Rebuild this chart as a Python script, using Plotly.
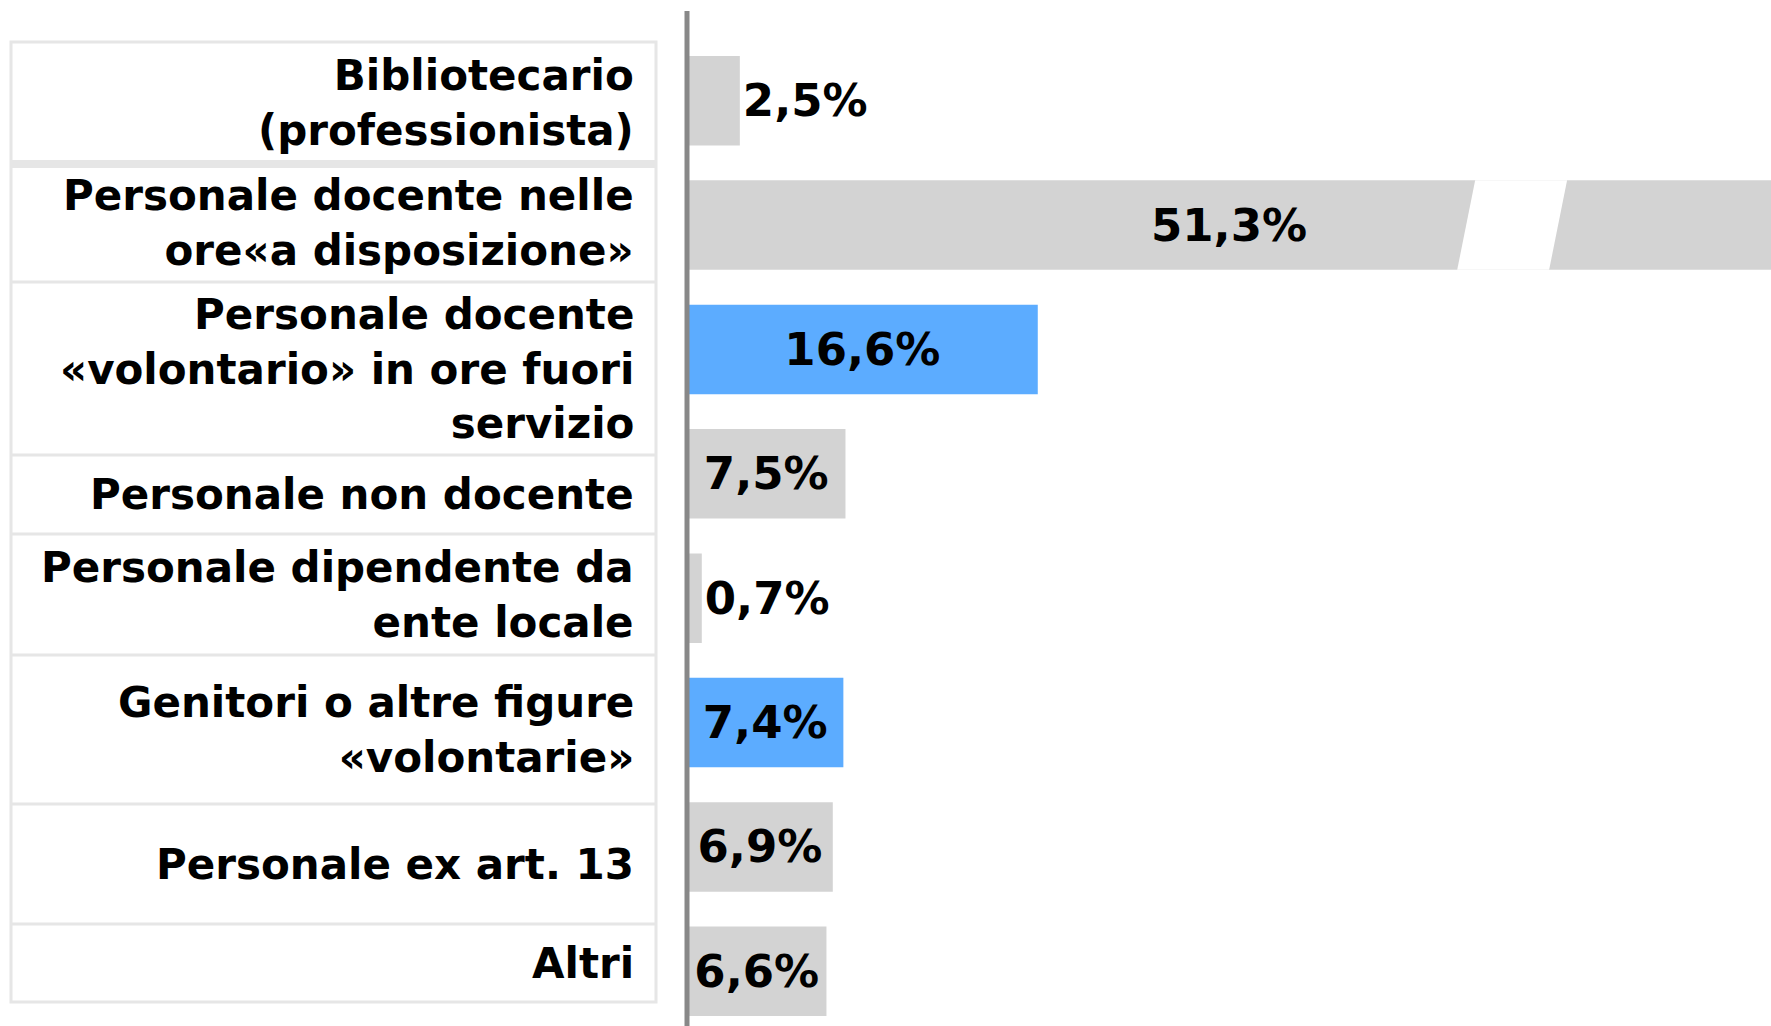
import plotly.graph_objects as go

# Share of staff by role (%)
categories = [
    "Bibliotecario<br>(professionista)",
    "Personale docente nelle<br>ore«a disposizione»",
    "Personale docente<br>«volontario» in ore fuori<br>servizio",
    "Personale non docente",
    "Personale dipendente da<br>ente locale",
    "Genitori o altre figure<br>«volontarie»",
    "Personale ex art. 13",
    "Altri",
]
shares = [2.5, 51.3, 16.6, 7.5, 0.7, 7.4, 6.9, 6.6]
highlighted = [False, False, True, False, False, True, False, False]
label_side = ["outside", "inside", "inside", "inside", "outside", "inside", "inside", "inside"]

W, H = 1771, 1026
GREY = "#d3d3d3"
BLUE = "#5cacff"
FONT = "DejaVu Sans"

# layout helpers (pixels in the final picture)
AXIS_X = 687
TABLE_LEFT, TABLE_RIGHT = 11, 656
LABEL_RIGHT = 636
TABLE_EDGES = [42, 164, 282, 455, 534, 655, 804, 924, 1002]
BAR_W = 0.72


def px_x(p):
    return p / W


def px_y(p):
    return 1 - p / H


ypos = list(range(len(categories)))
colors = [BLUE if h else GREY for h in highlighted]

fig = go.Figure()
fig.add_trace(
    go.Bar(
        x=shares,
        y=ypos,
        orientation="h",
        width=BAR_W,
        marker=dict(color=colors, line=dict(width=0)),
        texttemplate="%{x:.1f}%",
        textposition=label_side,
        insidetextanchor="middle",
        constraintext="none",
        cliponaxis=False,
        textfont=dict(family=FONT, size=45, color="black", weight="bold"),
        hoverinfo="skip",
    )
)

shapes = []

# broken-bar gap on the longest bar
big = shares.index(max(shares))
gap_left, gap_w, slant = 37.3, 4.35, 0.85
y_top, y_bot = big - BAR_W / 2, big + BAR_W / 2
shapes.append(dict(
    type="path", xref="x", yref="y",
    path=(f"M {gap_left},{y_top} L {gap_left + gap_w},{y_top} "
          f"L {gap_left + gap_w - slant},{y_bot} L {gap_left - slant},{y_bot} Z"),
    fillcolor="white", line=dict(width=0), layer="above",
))

# table around the category labels
shapes.append(dict(
    type="rect", xref="paper", yref="paper",
    x0=px_x(TABLE_LEFT), x1=px_x(TABLE_RIGHT),
    y0=px_y(TABLE_EDGES[0]), y1=px_y(TABLE_EDGES[-1]),
    line=dict(color="#e6e6e6", width=3), layer="below",
))
for i, e in enumerate(TABLE_EDGES[1:-1]):
    shapes.append(dict(
        type="line", xref="paper", yref="paper",
        x0=px_x(TABLE_LEFT), x1=px_x(TABLE_RIGHT),
        y0=px_y(e), y1=px_y(e),
        line=dict(color="#e6e6e6", width=8 if i == 0 else 3), layer="below",
    ))

# vertical axis line
shapes.append(dict(
    type="line", xref="paper", yref="paper",
    x0=px_x(AXIS_X), x1=px_x(AXIS_X), y0=px_y(11), y1=0,
    line=dict(color="#888888", width=5), layer="above",
))

# category labels, right aligned and centred in their table row
annotations = []
for i, label in enumerate(categories):
    mid = (TABLE_EDGES[i] + TABLE_EDGES[i + 1]) / 2
    annotations.append(dict(
        text=label, xref="paper", yref="paper",
        x=px_x(LABEL_RIGHT), y=px_y(mid),
        xanchor="right", yanchor="middle", align="right",
        showarrow=False,
        font=dict(family=FONT, size=42, color="black", weight="bold"),
    ))

fig.update_layout(
    width=W,
    height=H,
    margin=dict(l=0, r=0, t=0, b=0),
    paper_bgcolor="white",
    plot_bgcolor="white",
    showlegend=False,
    separators=",.",
    shapes=shapes,
    annotations=annotations,
    font=dict(family=FONT, color="black"),
    xaxis=dict(
        domain=[px_x(AXIS_X), 1],
        range=[0, max(shares)],
        visible=False,
        showgrid=False,
        zeroline=False,
    ),
    yaxis=dict(
        range=[7.44, -0.81],
        showticklabels=False,
        ticks="",
        showgrid=False,
        zeroline=False,
        showline=False,
        automargin=False,
    ),
)

fig.write_html(
    "out.html",
    config={"displayModeBar": False},
    post_script="document.body.style.margin = '0';",
)
